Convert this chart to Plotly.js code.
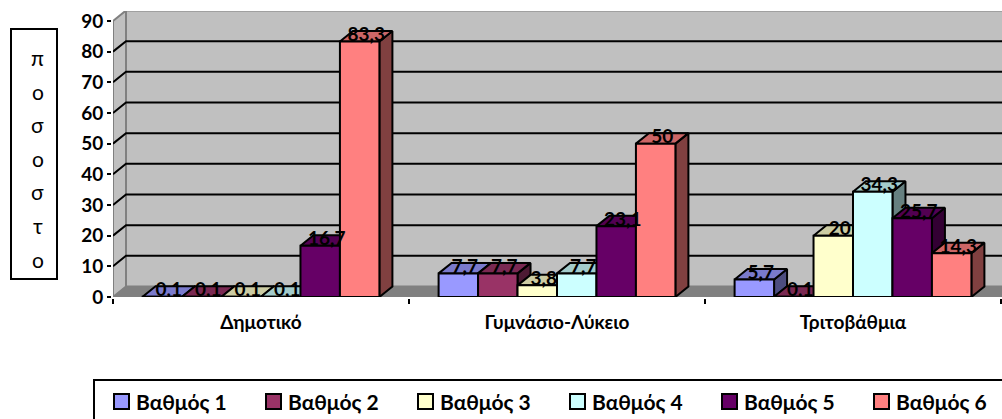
<!DOCTYPE html>
<html>
<head>
<meta charset="utf-8">
<script src="https://cdn.plot.ly/plotly-3.0.1.min.js"></script>
<style>html,body{margin:0;padding:0;background:#fff;overflow:hidden}#c{width:1002px;height:419px}</style>
</head>
<body>
<div id="c"></div>
<script>
const categories = ['Δημοτικό', 'Γυμνάσιο-Λύκειο', 'Τριτοβάθμια'];
const seriesNames = ['Βαθμός 1', 'Βαθμός 2', 'Βαθμός 3', 'Βαθμός 4', 'Βαθμός 5', 'Βαθμός 6'];
const grade1 = [0.1, 7.7, 5.7];
const grade2 = [0.1, 7.7, 0.1];
const grade3 = [0.1, 3.8, 20];
const grade4 = [0.1, 7.7, 34.3];
const grade5 = [16.7, 23.1, 25.7];
const grade6 = [83.3, 50, 14.3];
const seriesValues = [grade1, grade2, grade3, grade4, grade5, grade6];
const frontColors = ['#9999FF', '#993366', '#FFFFCC', '#CCFFFF', '#660066', '#FF8080'];
const topColors = ['#7A7ACC', '#7A2952', '#CCCCA3', '#A3CCCC', '#520052', '#CC6666'];
const sideColors = ['#4D4D80', '#4D1A33', '#808066', '#668080', '#330033', '#804040'];
const yTicks = [0, 10, 20, 30, 40, 50, 60, 70, 80, 90];
const axisLetters = ['π', 'ο', 'σ', 'ο', 'σ', 'τ', 'ο'];

const FONT = 'Lato, "Open Sans", "Noto Sans", sans-serif';
const W = 1002, H = 419, L = 113, T = 11, B = 122;
const unitPx = 296, valPx = 3.067;
const xMax = (W - L) / unitPx, yMax = (H - B - T) / valPx;
const dx = 13 / unitPx, dy = 10.5 / valPx;
const barW = 1 / 7.5;
const centers = categories.map((_, i) => i + 0.5);
const px = x => (x - L) / (W - L);
const py = y => (H - B - y) / (H - B - T);

const traces = [];
const deco = (x, y, color, fill, width, z) => ({
  type: 'scatter', mode: 'lines', x, y, showlegend: false, hoverinfo: 'skip', cliponaxis: false, zorder: z,
  fill: fill ? 'toself' : 'none', fillcolor: fill || undefined,
  line: {color, width}
});
// walls and floor
traces.push(deco([dx, xMax + 0.1, xMax + 0.1, dx, dx], [dy, dy, 90 + dy, 90 + dy, dy], '#808080', '#C0C0C0', 2, -10));
traces.push(deco([0, dx, dx, 0, 0], [0, dy, 90 + dy, 90, 0], '#808080', '#C0C0C0', 2, -10));
traces.push(deco([0, dx, xMax + 0.1, xMax + 0.1, 0], [0, dy, dy, 0, 0], '#808080', '#808080', 1, -10));
// grid lines on back wall and side wall
yTicks.slice(1, -1).forEach(v => {
  traces.push(deco([0, dx, xMax + 0.1], [v, v + dy, v + dy], '#000000', null, 2, -9));
});

seriesValues.forEach((vals, s) => {
  const offset = -0.4 + s * barW;
  const sideX = [], sideY = [], topX = [], topY = [];
  vals.forEach((v, c) => {
    const x0 = centers[c] + offset, x1 = x0 + barW;
    sideX.push(x1, x1 + dx, x1 + dx, x1, x1, null);
    sideY.push(0, dy, v + dy, v, 0, null);
    topX.push(x0, x0 + dx, x1 + dx, x1, x0, null);
    topY.push(v, v + dy, v + dy, v, v, null);
  });
  traces.push(deco(sideX, sideY, '#000000', sideColors[s], 2, 2 * s));
  traces.push(deco(topX, topY, '#000000', topColors[s], 2, 2 * s));
  traces.push({
    type: 'bar', name: seriesNames[s], x: centers, y: vals, width: barW, offset,
    marker: {color: frontColors[s], line: {color: '#000000', width: 2}},
    zorder: 2 * s + 1, hoverinfo: 'y+name', cliponaxis: false, showlegend: false
  });
});
// data labels
seriesValues.forEach((vals, s) => {
  const offset = -0.4 + s * barW;
  traces.push({
    type: 'scatter', mode: 'text', showlegend: false, hoverinfo: 'skip', cliponaxis: false, zorder: 50,
    x: centers.map(c => c + offset + barW / 2 + dx / 2),
    y: vals.map(v => v + dy / 2),
    text: vals.map(v => String(v).replace('.', ',')),
    textposition: 'middle center',
    textfont: {family: FONT, size: 19, color: '#000000', weight: 700}
  });
});

const annotations = axisLetters.map((ch, i) => ({
  text: ch, xref: 'paper', yref: 'paper', x: px(37.5), y: py(57.5 + i * 33.6),
  xanchor: 'center', yanchor: 'middle', showarrow: false,
  font: {family: FONT, size: 21, color: '#000000'}
}));

const shapes = [
  {type: 'rect', xref: 'paper', yref: 'paper', x0: px(11), x1: px(57), y0: py(29), y1: py(279), line: {color: '#000000', width: 2}, fillcolor: 'rgba(0,0,0,0)'},
  {type: 'rect', xref: 'paper', yref: 'paper', x0: px(94), x1: px(1010), y0: py(380), y1: py(430), line: {color: '#000000', width: 2}, fillcolor: 'rgba(0,0,0,0)'}
];
// legend row
const legendStep = 152, legendLeft = 114;
seriesNames.forEach((name, s) => {
  const x = legendLeft + s * legendStep;
  shapes.push({type: 'rect', xref: 'paper', yref: 'paper', x0: px(x), x1: px(x + 15), y0: py(394), y1: py(409),
    line: {color: '#000000', width: 2}, fillcolor: frontColors[s]});
  annotations.push({text: name, xref: 'paper', yref: 'paper', x: px(x + 20), y: py(401), xanchor: 'left', yanchor: 'middle',
    showarrow: false, font: {family: FONT, size: 21, color: '#000000', weight: 700}});
});

const layout = {
  width: W, height: H, margin: {l: L, r: 0, t: T, b: B, pad: 0, autoexpand: false},
  paper_bgcolor: '#FFFFFF', plot_bgcolor: '#FFFFFF',
  barmode: 'overlay',
  font: {family: FONT, color: '#000000'},
  showlegend: false,
  xaxis: {
    type: 'linear', range: [0, xMax], showgrid: false, zeroline: false,
    showline: true, linecolor: '#000000', linewidth: 2,
    tickmode: 'array', tickvals: centers, ticktext: categories, ticks: '', 
    ticklabelstandoff: 7,
    tickfont: {family: FONT, size: 19, color: '#000000', weight: 700},
    minor: {tickmode: 'array', tickvals: [0, 1, 2, 3], ticks: 'outside', ticklen: 5, tickwidth: 2, tickcolor: '#000000', showgrid: false}
  },
  yaxis: {
    range: [0, yMax], showgrid: false, zeroline: false,
    showline: true, linecolor: '#000000', linewidth: 2,
    tickmode: 'array', tickvals: yTicks, ticks: 'outside', ticklen: 4, tickwidth: 2, tickcolor: '#000000',
    tickfont: {family: FONT, size: 19, color: '#000000', weight: 700}
  },
  shapes,
  annotations
};
Plotly.newPlot('c', traces, layout, {displayModeBar: false, responsive: false});
</script>
</body>
</html>
